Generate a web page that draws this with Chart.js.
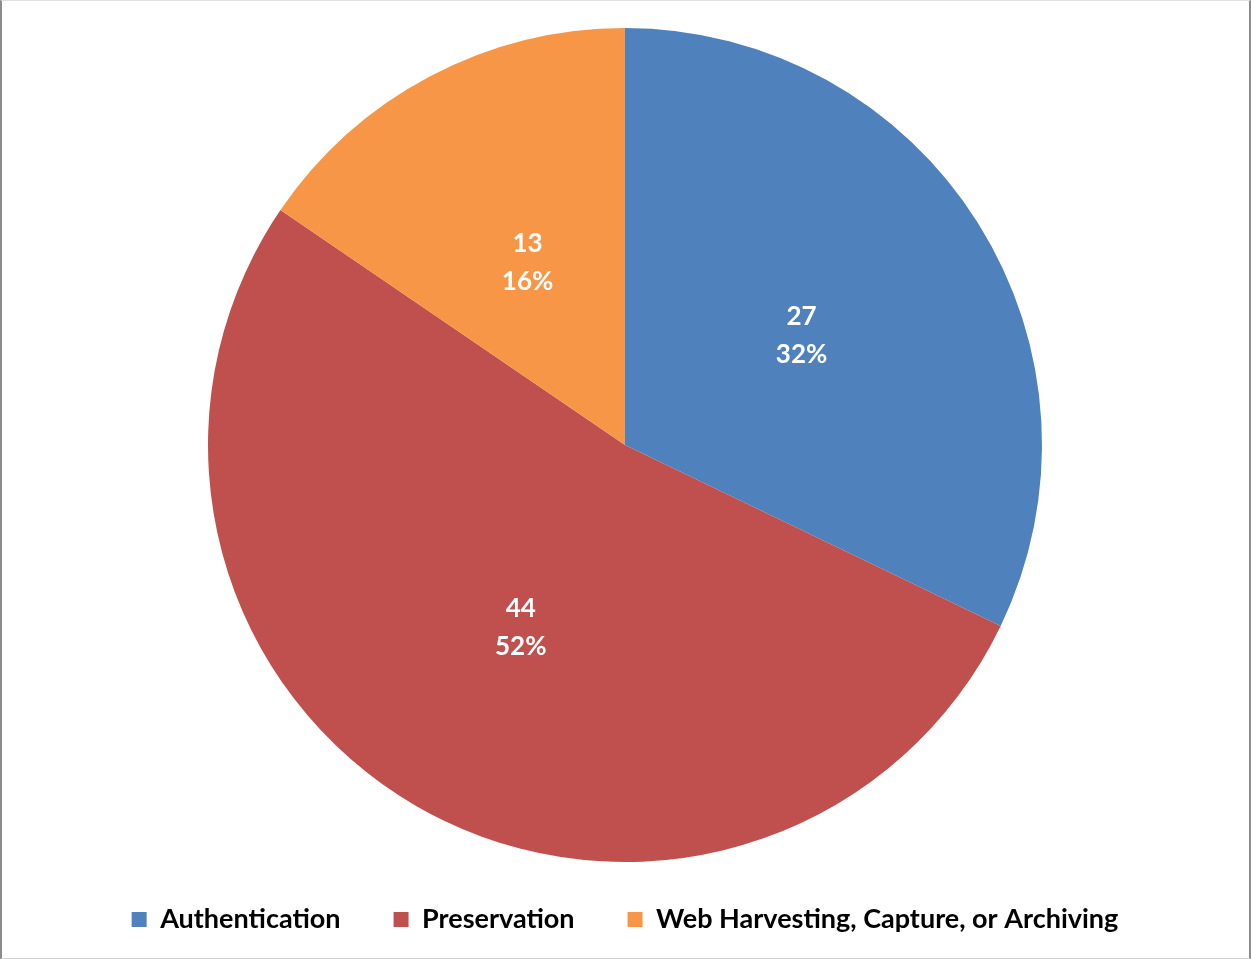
<!DOCTYPE html>
<html>
<head>
<meta charset="utf-8">
<script src="https://cdn.jsdelivr.net/npm/chart.js@4/dist/chart.umd.min.js"></script>
<style>
  html, body { margin: 0; padding: 0; background: #fff; }
  #wrap {
    position: relative;
    width: 1251px; height: 959px; box-sizing: border-box;
    border-left: 2px solid #8c8c8c; border-right: 2px solid #8c8c8c;
    border-top: 1px solid #e0e0e0; border-bottom: 1px solid #d0d0d0;
    background: #fff;
  }
  canvas { display: block; }
</style>
</head>
<body>
<div id="wrap"><canvas id="c" width="1247" height="957"></canvas></div>
<script>
const categories = ["Authentication", "Preservation", "Web Harvesting, Capture, or Archiving"];
const counts = [27, 44, 13];
const colors = ["#4F81BD", "#C0504D", "#F79646"];

const FONT = "Lato, 'Open Sans', 'Liberation Sans', sans-serif";

// Percentages rounded so they add to 100 (as the original chart shows)
function roundedPercents(values) {
  const total = values.reduce((a, b) => a + b, 0);
  const raw = values.map(v => v / total * 100);
  const floors = raw.map(Math.floor);
  let rest = 100 - floors.reduce((a, b) => a + b, 0);
  const order = raw.map((r, i) => [r - floors[i], i]).sort((a, b) => b[0] - a[0]);
  for (let k = 0; k < rest; k++) floors[order[k][1]] += 1;
  return floors;
}

const labelPlugin = {
  id: 'sliceLabels',
  afterLayout(chart) {
    const lg = chart.legend;
    if (lg) { lg.top -= 9; lg.bottom -= 9; }
  },
  afterDatasetsDraw(chart) {
    const ctx = chart.ctx;
    const meta = chart.getDatasetMeta(0);
    const data = chart.data.datasets[0].data;
    const pcts = roundedPercents(data);
    ctx.save();
    ctx.fillStyle = '#ffffff';
    ctx.font = "bold 26px " + FONT;
    ctx.textAlign = 'center';
    ctx.textBaseline = 'middle';
    meta.data.forEach((arc, i) => {
      const p = arc.tooltipPosition();
      ctx.fillText(String(data[i]), p.x, p.y - 17);
      ctx.fillText(pcts[i] + '%', p.x, p.y + 21);
    });
    ctx.restore();
  }
};

new Chart(document.getElementById('c'), {
  type: 'pie',
  data: {
    labels: categories,
    datasets: [{
      data: counts,
      backgroundColor: colors,
      borderWidth: 0
    }]
  },
  options: {
    responsive: false,
    animation: false,
    layout: { padding: { top: 27, bottom: 6, left: 0, right: 1 } },
    plugins: {
      tooltip: { enabled: false },
      legend: {
        position: 'bottom',
        labels: {
          color: '#000',
          font: { family: FONT, size: 27, weight: 'bold' },
          boxWidth: 15,
          boxHeight: 15,
          padding: 53
        }
      }
    }
  },
  plugins: [labelPlugin]
});
</script>
</body>
</html>
